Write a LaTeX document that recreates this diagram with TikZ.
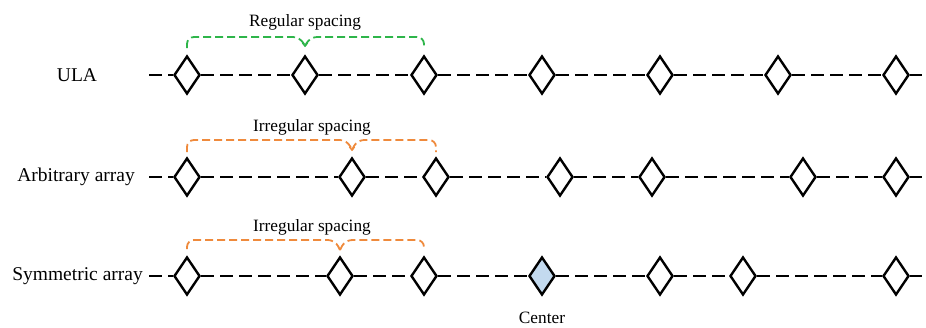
\documentclass[tikz,border=0pt]{standalone}
\usepackage{fontspec}
\setmainfont{Liberation Serif}
\usetikzlibrary{shapes.geometric,arrows.meta}
\definecolor{bgreen}{HTML}{2EB54A}
\definecolor{borange}{HTML}{EF8A3C}
\definecolor{cblue}{HTML}{C3DAEF}
\tikzset{
  elem/.style={diamond, draw=black, line width=2.4pt, fill=white, minimum width=26pt, minimum height=38pt, inner sep=0pt},
  axisline/.style={line width=2.3pt, dash pattern=on 13pt off 6pt},
  rowlabel/.style={font=\fontsize{19.5}{22}\selectfont, inner sep=0pt},
  spclabel/.style={font=\fontsize{17.3}{20}\selectfont, inner sep=0pt},
  brace/.style={line width=1.8pt, dash pattern=on 8pt off 4pt, rounded corners=7pt},
}
\begin{document}
\begin{tikzpicture}[x=1pt,y=-1pt]
\useasboundingbox (0,0) rectangle (926,327);
% row labels
\node[rowlabel] (l1) at (77,75) {ULA};
\node[rowlabel,anchor=east] (l2) at (135,177) {Arbitrary array};
\node[rowlabel,anchor=east] (l3) at (143,276) {Symmetric array};
% row 1
\foreach \i/\x in {1/187,2/305,3/424,4/542,5/660,6/778,7/896}
  \node[elem] (a\i) at (\x,75) {};
% row 2
\foreach \i/\x in {1/187,2/352,3/436,4/560,5/652,6/803,7/896}
  \node[elem] (b\i) at (\x,177) {};
% row 3
\foreach \i/\x in {1/187,2/340,3/424,5/660,6/743,7/896}
  \node[elem] (c\i) at (\x,276) {};
\node[elem, fill=cblue] (c4) at (542,276) {};
% line ends
\coordinate (as) at (149,75); \coordinate (ae) at (922,75);
\coordinate (bs) at (149,177); \coordinate (be) at (922,177);
\coordinate (cs) at (149,276); \coordinate (ce) at (922,276);
\foreach \r in {a,b,c}{
  \draw[axisline] (\r s) -- (\r1.west);
  \foreach \i [evaluate=\i as \j using int(\i+1)] in {1,...,6}
    \draw[axisline] (\r\i.east) -- (\r\j.west);
  \draw[axisline] (\r7.east) -- (\r e);
}
% brace levels
\coordinate (ya) at (0,37);  \coordinate (yae) at (0,48);  \coordinate (yat) at (0,46);
\coordinate (yb) at (0,140); \coordinate (ybe) at (0,152); \coordinate (ybt) at (0,150);
\coordinate (yc) at (0,240); \coordinate (yce) at (0,249); \coordinate (yct) at (0,250);
% braces row 1
\draw[brace, bgreen] (a1 |- yae) -- (a1 |- ya) -- ([xshift=-5pt]a2 |- ya) -- (a2 |- yat);
\draw[brace, bgreen] (a2 |- yat) -- ([xshift=5pt]a2 |- ya) -- (a3 |- ya) -- (a3 |- yae);
\draw[bgreen, line width=1.5pt] ([xshift=-2.5pt,yshift=3pt]a2 |- yat) -- (a2 |- yat) -- ([xshift=2.5pt,yshift=3pt]a2 |- yat);
\node[spclabel] (t1) at (305,22) {Regular spacing};
% braces row 2
\draw[brace, borange] (b1 |- ybe) -- (b1 |- yb) -- ([xshift=-5pt]b2 |- yb) -- (b2 |- ybt);
\draw[brace, borange] (b2 |- ybt) -- ([xshift=5pt]b2 |- yb) -- (b3 |- yb) -- (b3 |- ybe);
\draw[borange, line width=1.5pt] ([xshift=-2.5pt,yshift=3pt]b2 |- ybt) -- (b2 |- ybt) -- ([xshift=2.5pt,yshift=3pt]b2 |- ybt);
\node[spclabel] (t2) at (312,127) {Irregular spacing};
% braces row 3
\draw[brace, borange] (c1 |- yce) -- (c1 |- yc) -- ([xshift=-5pt]c2 |- yc) -- (c2 |- yct);
\draw[brace, borange] (c2 |- yct) -- ([xshift=5pt]c2 |- yc) -- (c3 |- yc) -- (c3 |- yce);
\node[spclabel] (t3) at (312,227) {Irregular spacing};
% center label
\node[spclabel] (ct) at (542,318) {Center};
\end{tikzpicture}
\end{document}
